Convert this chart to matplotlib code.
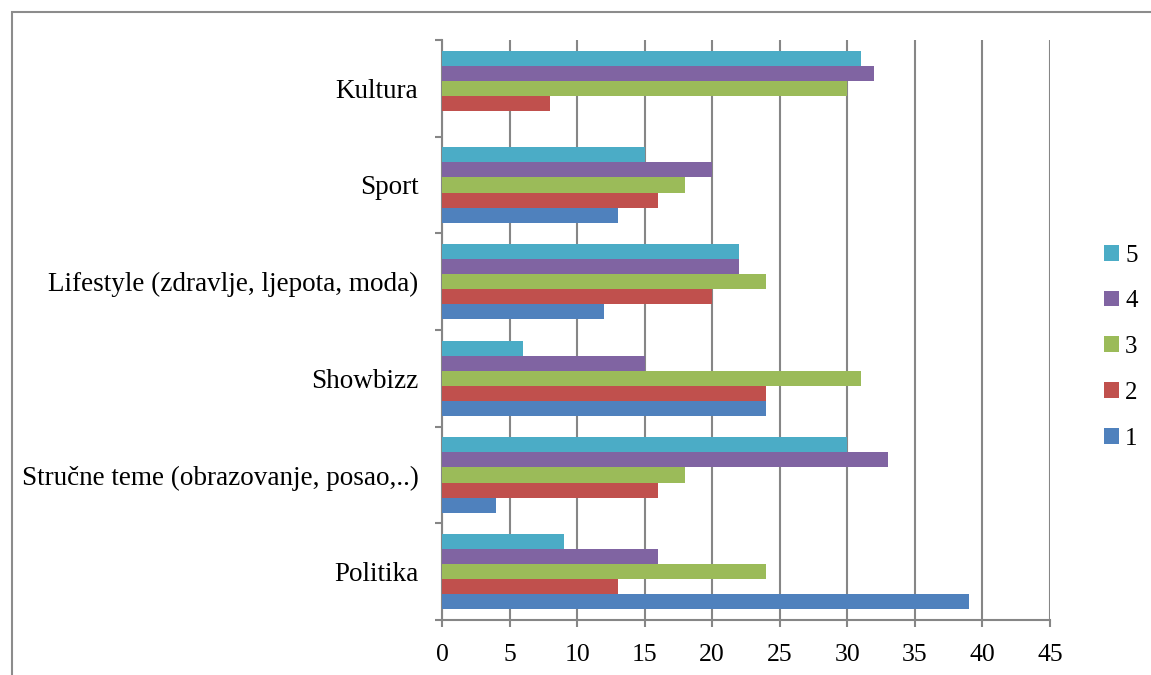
import numpy as np
import matplotlib.pyplot as plt
from matplotlib.patches import Rectangle
from matplotlib.ticker import FixedLocator, NullFormatter

plt.rcParams['font.family'] = ['Liberation Serif', 'DejaVu Serif']

categories = ["Politika", "Stručne teme (obrazovanje, posao,..)", "Showbizz",
              "Lifestyle (zdravlje, ljepota, moda)", "Sport", "Kultura"]
series_names = ["1", "2", "3", "4", "5"]
s1 = [39, 4, 24, 12, 13, 0]
s2 = [13, 16, 24, 20, 16, 8]
s3 = [24, 18, 31, 24, 18, 30]
s4 = [16, 33, 15, 22, 20, 32]
s5 = [9, 30, 6, 22, 15, 31]
series = [s1, s2, s3, s4, s5]
colors = ["#4F81BD", "#C0504D", "#9BBB59", "#8064A2", "#4BACC6"]

fig = plt.figure(figsize=(11.51, 6.75), dpi=100)
ax = fig.add_axes([442/1151, 1 - 620/675, 608/1151, 580/675])

y = np.arange(len(categories))
h = 0.156
for i, vals in enumerate(series):
    ax.barh(y + (i - 2) * h, vals, height=h, color=colors[i],
            label=series_names[i], zorder=3)

grid_c = "#868686"
ax.set_xlim(0, 45)
ax.set_ylim(-0.5, len(categories) - 0.5)
ax.set_xticks(range(0, 46, 5))
ax.set_yticks(y)
ax.set_yticklabels(categories)
ax.yaxis.set_minor_locator(FixedLocator(np.arange(-0.5, len(categories), 1)))
ax.yaxis.set_minor_formatter(NullFormatter())
ax.tick_params(axis='y', which='major', length=0, pad=17, labelsize=19.5)
ax.tick_params(axis='y', which='minor', length=5, width=1.5, color=grid_c)
ax.tick_params(axis='x', length=5, width=1.5, color=grid_c, pad=12, labelsize=18.5)
ax.xaxis.grid(True, color=grid_c, linewidth=1.5, zorder=0)
for s in ['top', 'right']:
    ax.spines[s].set_visible(False)
for s in ['left', 'bottom']:
    ax.spines[s].set_color(grid_c)
    ax.spines[s].set_linewidth(1.5)

handles, labels = ax.get_legend_handles_labels()
fig.legend(handles[::-1], labels[::-1], loc='center left',
           bbox_to_anchor=(1104/1151, 1 - 347/675), frameon=False,
           fontsize=18, handlelength=0.6, handleheight=0.6,
           handletextpad=0.25, labelspacing=0.95, borderaxespad=0,
           borderpad=0)

fig.patches.append(Rectangle((12/1151, -0.1), 1.2, 1 - 12/675 + 0.1,
                             transform=fig.transFigure, fill=False,
                             edgecolor="#8c8c8c", linewidth=1.5))

fig.savefig("out.png", dpi=100)
